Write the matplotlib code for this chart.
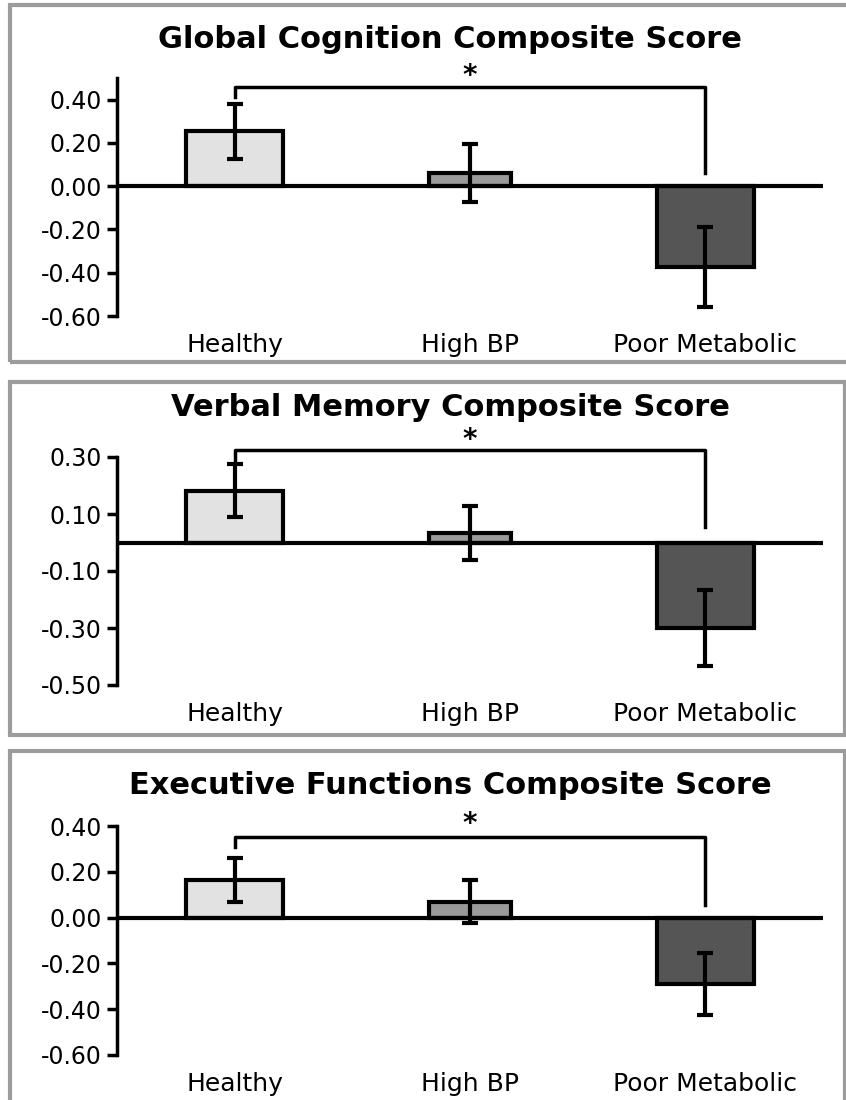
import numpy as np
import matplotlib
matplotlib.use("Agg")
import matplotlib.pyplot as plt
from matplotlib.patches import Rectangle

groups = ["Healthy", "High BP", "Poor Metabolic"]
bar_colors = ["#e2e2e2", "#9a9a9a", "#555555"]
bar_widths = [0.41, 0.35, 0.41]

titles = ["Global Cognition Composite Score",
          "Verbal Memory Composite Score",
          "Executive Functions Composite Score"]

global_means = [0.254, 0.06, -0.375]
global_err = [0.127, 0.135, 0.185]

verbal_means = [0.182, 0.033, -0.30]
verbal_err = [0.093, 0.096, 0.133]

exec_means = [0.166, 0.07, -0.29]
exec_err = [0.096, 0.095, 0.135]

yticks_list = [[0.40, 0.20, 0.00, -0.20, -0.40, -0.60],
               [0.30, 0.10, -0.10, -0.30, -0.50],
               [0.40, 0.20, 0.00, -0.20, -0.40, -0.60]]
ylims = [(-0.60, 0.50), (-0.50, 0.30), (-0.60, 0.40)]

# significance bracket: top, left drop, right drop, star height
brackets = [(0.46, 0.41, 0.06, 0.51),
            (0.325, 0.29, 0.054, 0.36),
            (0.353, 0.31, 0.055, 0.41)]

means = [global_means, verbal_means, exec_means]
errs = [global_err, verbal_err, exec_err]

W, H = 846, 1100
fig = plt.figure(figsize=(W / 100, H / 100), dpi=100)

# panel boxes (pixels: x0, y_top, x1, y_bottom)
boxes = [(10, 5, 852, 362), (10, 382, 845, 735), (10, 751, 845, 1110)]
# axes placement in pixels: left, top, right, bottom
axes_px = [(117, 78, 823, 316), (117, 457, 823, 685), (117, 826, 823, 1055)]
title_y = [40, 408, 786]

for x0, yt, x1, yb in boxes:
    fig.patches.append(Rectangle((x0 / W, 1 - yb / H), (x1 - x0) / W, (yb - yt) / H,
                                 transform=fig.transFigure, fill=False,
                                 edgecolor="#9c9c9c", linewidth=3, zorder=0))

x = np.arange(len(groups))
for i in range(3):
    l, t, r, b = axes_px[i]
    ax = fig.add_axes([l / W, 1 - b / H, (r - l) / W, (b - t) / H])
    ax.bar(x, means[i], width=bar_widths, color=bar_colors,
           edgecolor="black", linewidth=3, zorder=2)
    ax.errorbar(x, means[i], yerr=errs[i], fmt="none", ecolor="black",
                elinewidth=3, capsize=6, capthick=3, zorder=3)
    ax.axhline(0, color="black", linewidth=3, zorder=4)

    top, ldrop, rdrop, star = brackets[i]
    ax.plot([0, 0, 2, 2], [ldrop, top, top, rdrop], color="black",
            linewidth=2.5, clip_on=False, zorder=5)
    ax.text(1, star, "*", ha="center", va="center", fontsize=20,
            fontweight="bold", clip_on=False)

    ax.set_xlim(-0.5, 2.5)
    ax.set_ylim(*ylims[i])
    ax.set_yticks(yticks_list[i])
    ax.set_yticklabels([f"{v:.2f}" for v in yticks_list[i]], fontsize=17)
    ax.set_xticks(x)
    ax.set_xticklabels(groups, fontsize=18)
    ax.tick_params(axis="x", length=0, pad=12)
    ax.tick_params(axis="y", length=7, width=2.5, pad=4)
    for s in ["top", "right", "bottom"]:
        ax.spines[s].set_visible(False)
    ax.spines["left"].set_linewidth(2.5)
    ax.patch.set_alpha(0)

    fig.text(450 / W, 1 - title_y[i] / H, titles[i], ha="center", va="center",
             fontsize=22, fontweight="bold")

fig.savefig("out.png", dpi=100)
